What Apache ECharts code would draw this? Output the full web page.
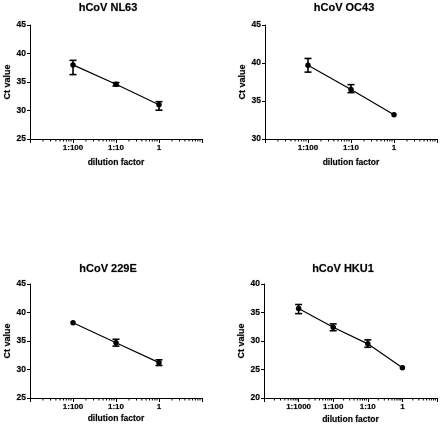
<!DOCTYPE html>
<html><head><meta charset="utf-8">
<script src="https://cdn.jsdelivr.net/npm/echarts@6/dist/echarts.min.js"></script>
<style>html,body{margin:0;padding:0;background:#fff}#c{width:440px;height:428px}</style>
</head><body><div id="c"></div>
<script>
// ---- data ----
const panelTitles = ['hCoV NL63', 'hCoV OC43', 'hCoV 229E', 'hCoV HKU1'];

const nl63Dilution = [0.01, 0.1, 1];
const nl63Ct   = [38.0, 34.6, 31.0];
const nl63Low  = [36.3, 34.3, 30.05];
const nl63High = [38.8, 34.9, 31.55];

const oc43Dilution = [0.01, 0.1, 1];
const oc43Ct   = [39.7, 36.5, 33.2];
const oc43Low  = [38.8, 36.1, 33.2];
const oc43High = [40.6, 37.15, 33.2];

const e229Dilution = [0.01, 0.1, 1];
const e229Ct   = [38.2, 34.7, 31.2];
const e229Low  = [38.2, 34.1, 30.7];
const e229High = [38.2, 35.3, 31.7];

const hku1Dilution = [0.001, 0.01, 0.1, 1];
const hku1Ct   = [35.7, 32.4, 29.5, 25.3];
const hku1Low  = [34.8, 31.8, 28.9, 25.3];
const hku1High = [36.4, 33.0, 30.2, 25.3];

const xTickValues = [0.001, 0.01, 0.1, 1];
const xTickLabels = ['1:1000', '1:100', '1:10', '1'];
const yMins = [25, 30, 25, 20];
const yMaxs = [45, 45, 45, 40];
const xMins = [0.001, 0.001, 0.001, 0.0001];
const xMaxs = [10, 10, 10, 10];

// ---- layout / style ----
const grids = [
  {left: 30, top: 25, width: 172, height: 114},
  {left: 265, top: 25, width: 172, height: 114},
  {left: 30, top: 284, width: 172, height: 114},
  {left: 264, top: 284, width: 173, height: 114}
];
const titlePos = [[108, 8], [344, 8], [108, 269], [343, 269]];
const xNameGaps = [19, 19, 16, 17];
const FONT = 'Liberation Sans, Arial, Helvetica, sans-serif';
const INK = '#000';
const thick = {textBorderColor: 'rgba(0,0,0,0.35)', textBorderWidth: 0.5};

const panels = [
  [nl63Dilution, nl63Ct, nl63Low, nl63High],
  [oc43Dilution, oc43Ct, oc43Low, oc43High],
  [e229Dilution, e229Ct, e229Low, e229High],
  [hku1Dilution, hku1Ct, hku1Low, hku1High]
];

function labelFor(v, i) {
  const lv = Math.log10(v);
  if (Math.abs(lv - Math.log10(xMins[i])) < 1e-6 || Math.abs(lv - Math.log10(xMaxs[i])) < 1e-6) return '';
  for (let k = 0; k < xTickValues.length; k++) {
    if (Math.abs(lv - Math.log10(xTickValues[k])) < 1e-6) return xTickLabels[k];
  }
  return '';
}

function minorTickValues(i) {
  const out = [];
  const a = Math.round(Math.log10(xMins[i])), b = Math.round(Math.log10(xMaxs[i]));
  for (let e = a; e < b; e++) for (let m = 2; m <= 9; m++) out.push([m * Math.pow(10, e), yMins[i]]);
  return out;
}

const xAxes = [], yAxes = [], series = [], graphics = [];
panels.forEach((p, i) => {
  xAxes.push({
    type: 'log', logBase: 10, gridIndex: i, min: xMins[i], max: xMaxs[i],
    name: 'dilution factor', nameLocation: 'middle', nameGap: xNameGaps[i],
    nameTextStyle: Object.assign({fontFamily: FONT, fontWeight: 'bold', fontSize: 8.5, color: INK}, thick),
    axisLine: {show: true, onZero: false, lineStyle: {color: '#000', width: 1}},
    axisTick: {show: true, inside: false, length: 4, lineStyle: {color: '#000', width: 1}},
    minorTick: {show: false},
    splitLine: {show: false},
    axisLabel: Object.assign({fontFamily: FONT, fontWeight: 'bold', fontSize: 8, color: INK, margin: 5,
      showMinLabel: true, showMaxLabel: true,
      formatter: (v) => labelFor(v, i)}, thick)
  });
  yAxes.push({
    type: 'value', gridIndex: i, min: yMins[i], max: yMaxs[i], interval: 5,
    name: 'Ct value', nameLocation: 'middle', nameGap: 18,
    nameTextStyle: Object.assign({fontFamily: FONT, fontWeight: 'bold', fontSize: 9, color: INK}, thick),
    axisLine: {show: true, lineStyle: {color: '#000', width: 1}},
    axisTick: {show: true, inside: false, length: 3, lineStyle: {color: '#000', width: 1}},
    splitLine: {show: false},
    axisLabel: Object.assign({fontFamily: FONT, fontWeight: 'bold', fontSize: 8.5, color: INK, margin: 4}, thick)
  });
  const [xs, ys, lo, hi] = p;
  // minor ticks on log x axis
  series.push({
    type: 'custom', xAxisIndex: i, yAxisIndex: i, silent: true, clip: false,
    data: minorTickValues(i),
    renderItem: (params, api) => {
      const pt = api.coord([api.value(0), api.value(1)]);
      return {type: 'line', shape: {x1: pt[0], y1: pt[1], x2: pt[0], y2: pt[1] + 2.5},
        style: {stroke: '#000', lineWidth: 1}};
    }
  });
  // error bars
  series.push({
    type: 'custom', xAxisIndex: i, yAxisIndex: i, silent: true, clip: false, z: 3,
    data: xs.map((x, k) => [x, lo[k], hi[k]]),
    renderItem: (params, api) => {
      const a = api.coord([api.value(0), api.value(2)]);
      const b = api.coord([api.value(0), api.value(1)]);
      if (Math.abs(a[1] - b[1]) < 0.5) return {type: 'group', children: []};
      const w = 3.5, st = {stroke: '#000', lineWidth: 1.6};
      return {type: 'group', children: [
        {type: 'line', shape: {x1: a[0], y1: a[1], x2: b[0], y2: b[1]}, style: st},
        {type: 'line', shape: {x1: a[0] - w, y1: a[1], x2: a[0] + w, y2: a[1]}, style: st},
        {type: 'line', shape: {x1: b[0] - w, y1: b[1], x2: b[0] + w, y2: b[1]}, style: st}
      ]};
    }
  });
  series.push({
    type: 'line', xAxisIndex: i, yAxisIndex: i, z: 4,
    data: xs.map((x, k) => [x, ys[k]]),
    symbol: 'circle', symbolSize: 5.5, showSymbol: true,
    lineStyle: {color: '#000', width: 1.2},
    itemStyle: {color: '#000', borderWidth: 0},
    emphasis: {disabled: true}, animation: false
  });
  graphics.push({
    type: 'text', x: titlePos[i][0], y: titlePos[i][1],
    style: {text: panelTitles[i], fill: INK, font: 'bold 11px ' + FONT, textAlign: 'center', textVerticalAlign: 'middle',
      stroke: 'rgba(0,0,0,0.35)', lineWidth: 0.5}
  });
});

const chart = echarts.init(document.getElementById('c'), null, {renderer: 'canvas'});
chart.setOption({
  animation: false,
  backgroundColor: '#fff',
  grid: grids,
  xAxis: xAxes,
  yAxis: yAxes,
  series: series,
  graphic: graphics
});
</script>
</body></html>
